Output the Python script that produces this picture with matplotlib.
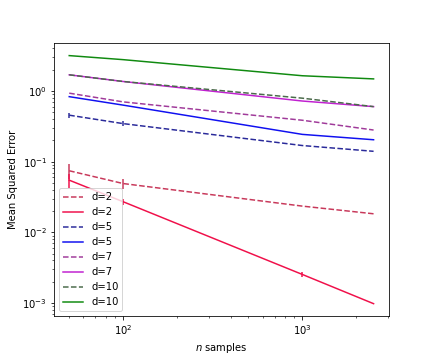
import matplotlib
matplotlib.use('Agg')
import matplotlib.pyplot as plt
import numpy as np

n_samples = [50, 100, 1000, 2500]

# dashed runs
mse_d2_a = [0.0743, 0.049, 0.0235, 0.0183]
err_d2_a = [0.017, 0.008, 0.0, 0.0]
mse_d5_a = [0.454, 0.345, 0.169, 0.14]
err_d5_a = [0.04, 0.025, 0.0, 0.0]
mse_d7_a = [0.93, 0.70, 0.385, 0.28]
mse_d10_a = [1.69, 1.36, 0.79, 0.60]

# solid runs
mse_d2_b = [0.0547, 0.0271, 0.00254, 0.00098]
err_d2_b = [0.012, 0.003, 0.0002, 0.0]
mse_d5_b = [0.83, 0.63, 0.243, 0.204]
mse_d7_b = [1.69, 1.36, 0.72, 0.60]
mse_d10_b = [3.16, 2.77, 1.64, 1.48]

fig, ax = plt.subplots(figsize=(6, 5), dpi=72)
fig.subplots_adjust(bottom=0.122)

c2a, c2b = '#c8385a', '#f0104a'
c5a, c5b = '#2a2a9a', '#1010f0'

ax.plot(n_samples, mse_d2_a, color=c2a, ls='--', label='d=2')
ax.plot(n_samples, mse_d2_b, color=c2b, ls='-', label='d=2')
ax.plot(n_samples, mse_d5_a, color=c5a, ls='--', label='d=5')
ax.plot(n_samples, mse_d5_b, color=c5b, ls='-', label='d=5')
ax.plot(n_samples, mse_d7_a, color='#a03a9a', ls='--', label='d=7')
ax.plot(n_samples, mse_d7_b, color='#c020d0', ls='-', label='d=7')
ax.plot(n_samples, mse_d10_a, color='#4a6a4a', ls='--', label='d=10')
ax.plot(n_samples, mse_d10_b, color='#108a10', ls='-', label='d=10')

# error bars
ax.errorbar(n_samples, mse_d2_a, yerr=err_d2_a, color=c2a, ls='none')
ax.errorbar(n_samples, mse_d2_b, yerr=err_d2_b, color=c2b, ls='none')
ax.errorbar(n_samples, mse_d5_a, yerr=err_d5_a, color=c5a, ls='none')

ax.set_xscale('log')
ax.set_yscale('log')
ax.set_xlabel('$n$ samples')
ax.set_ylabel('Mean Squared Error')
ax.legend(loc='lower left')

plt.savefig('out.png')
